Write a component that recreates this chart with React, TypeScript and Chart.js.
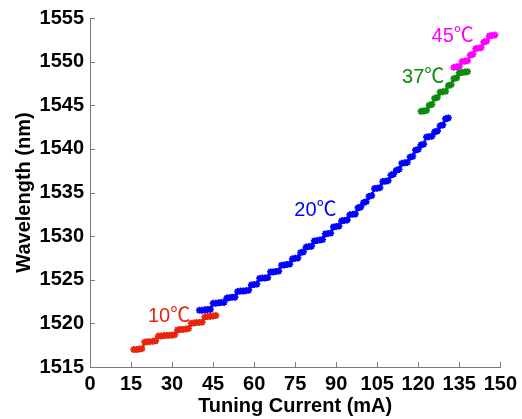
import React, { useEffect, useRef } from 'react';
import { Chart, registerables } from 'chart.js';

Chart.register(...registerables);

// 10 °C
const current10 = [16, 17, 18, 19, 20, 21, 22, 23, 24, 25, 26, 27, 28, 29, 30, 31, 32, 33, 34, 35, 36, 37, 38, 39, 40, 41, 42, 43, 44, 45, 46];
const wave10 = [1517.0, 1517.0, 1517.05, 1517.1, 1517.85, 1517.9, 1517.9, 1517.95, 1518.0, 1518.55, 1518.55, 1518.6, 1518.6, 1518.65, 1518.65, 1518.7, 1519.25, 1519.3, 1519.3, 1519.35, 1519.4, 1520.0, 1520.05, 1520.1, 1520.1, 1520.15, 1520.75, 1520.8, 1520.8, 1520.85, 1520.9];

// 20 °C
const current20 = [40, 41, 42, 43, 44, 45, 46, 47, 48, 49, 50, 51, 52, 53, 54, 55, 56, 57, 58, 59, 60, 61, 62, 63, 64, 65, 66, 67, 68, 69, 70, 71, 72, 73, 74, 75, 76, 77, 78, 79, 80, 81, 82, 83, 84, 85, 86, 87, 88, 89, 90, 91, 92, 93, 94, 95, 96, 97, 98, 99, 100, 101, 102, 103, 104, 105, 106, 107, 108, 109, 110, 111, 112, 113, 114, 115, 116, 117, 118, 119, 120, 121, 122, 123, 124, 125, 126, 127, 128, 129, 130, 131];
const wave20 = [
  1521.5, 1521.5, 1521.55, 1521.6, 1521.6,
  1522.3, 1522.3, 1522.35, 1522.4, 1522.4,
  1522.9, 1522.95, 1523.0, 1523.0,
  1523.65, 1523.7, 1523.7, 1523.75, 1523.8,
  1524.4, 1524.45, 1524.5,
  1525.15, 1525.2, 1525.2, 1525.25,
  1525.9, 1525.9, 1525.95, 1526.0,
  1526.65, 1526.7, 1526.75, 1526.8,
  1527.4, 1527.45, 1527.5,
  1528.1, 1528.2,
  1528.75, 1528.8, 1528.85,
  1529.45, 1529.5, 1529.55, 1529.6,
  1530.25, 1530.3, 1530.35,
  1531.05, 1531.1, 1531.15,
  1531.75, 1531.8, 1531.85,
  1532.45, 1532.5, 1532.55,
  1533.25, 1533.35,
  1533.85, 1533.95,
  1534.55, 1534.65,
  1535.45, 1535.5, 1535.55,
  1536.25, 1536.3, 1536.35,
  1537.0, 1537.1,
  1537.55, 1537.65,
  1538.35, 1538.4, 1538.45,
  1539.05, 1539.15,
  1539.85, 1539.95,
  1540.45, 1540.55,
  1541.35, 1541.4, 1541.45,
  1541.95, 1542.05,
  1542.65, 1542.75,
  1543.45, 1543.55,
];

// 37 °C
const current37 = [121, 122, 123, 124, 125, 126, 127, 128, 129, 130, 131, 132, 133, 134, 135, 136, 137, 138];
const wave37 = [1544.3, 1544.35, 1544.4, 1545.0, 1545.1, 1545.8, 1545.9, 1546.5, 1546.55, 1546.6, 1547.25, 1547.35, 1548.05, 1548.15, 1548.7, 1548.75, 1548.8, 1548.85];

// 45 °C
const current45 = [133, 134, 135, 136, 137, 138, 139, 140, 141, 142, 143, 144, 145, 146, 147, 148];
const wave45 = [1549.35, 1549.4, 1549.45, 1550.0, 1550.05, 1550.1, 1550.75, 1550.85, 1551.5, 1551.55, 1551.6, 1552.25, 1552.35, 1552.95, 1553.0, 1553.05];

const seriesLabels = ['10℃', '20℃', '37℃', '45℃'];
const seriesColors = ['#e8250c', '#0000ff', '#0b8a0b', '#ff00ff'];
const labelCurrent = [28.9, 82.4, 121.8, 132.6];
const labelWave = [1520.74, 1532.95, 1548.2, 1552.86];

const xMin = 0, xMax = 150, xStep = 15;
const yMin = 1515, yMax = 1555, yStep = 5;

const AXIS_GRAY = '#7a7a7a';

const inwardTicks = {
  id: 'inwardTicks',
  afterDatasetsDraw(chart: any) {
    const { ctx, chartArea, scales } = chart;
    ctx.save();
    ctx.strokeStyle = AXIS_GRAY;
    ctx.lineWidth = 1;
    scales.x.ticks.forEach((t: any) => {
      const px = Math.round(scales.x.getPixelForValue(t.value)) + 0.5;
      ctx.beginPath();
      ctx.moveTo(px, chartArea.bottom);
      ctx.lineTo(px, chartArea.bottom - 5);
      ctx.stroke();
    });
    scales.y.ticks.forEach((t: any) => {
      const py = Math.round(scales.y.getPixelForValue(t.value)) + 0.5;
      ctx.beginPath();
      ctx.moveTo(chartArea.left, py);
      ctx.lineTo(chartArea.left + 5, py);
      ctx.stroke();
    });
    ctx.restore();
  },
};

const seriesText = {
  id: 'seriesText',
  afterDatasetsDraw(chart: any) {
    const { ctx, scales } = chart;
    ctx.save();
    ctx.font = '20px "Liberation Sans", Arial, "Noto Sans CJK SC", sans-serif';
    ctx.textAlign = 'center';
    ctx.textBaseline = 'middle';
    seriesLabels.forEach((txt, i) => {
      ctx.fillStyle = seriesColors[i];
      ctx.fillText(txt, scales.x.getPixelForValue(labelCurrent[i]), scales.y.getPixelForValue(labelWave[i]));
    });
    ctx.restore();
  },
};

function makeData(xs: number[], ys: number[]) {
  return xs.map((x, i) => ({ x, y: ys[i] }));
}

const tickFont = { family: '"Liberation Sans", Arial, sans-serif', size: 20, weight: 'bold' };
const titleFont = { family: '"Liberation Sans", Arial, sans-serif', size: 20, weight: 'bold' };

export default function App() {
  const canvasRef = useRef<HTMLCanvasElement | null>(null);

  useEffect(() => {
    if (!canvasRef.current) return;
    const sets = [
      [current10, wave10],
      [current20, wave20],
      [current37, wave37],
      [current45, wave45],
    ];
    const chart = new Chart(canvasRef.current, {
      type: 'scatter',
      data: {
        datasets: sets.map(([xs, ys], i) => ({
          label: seriesLabels[i],
          data: makeData(xs, ys),
          showLine: true,
          borderColor: seriesColors[i],
          backgroundColor: seriesColors[i],
          borderWidth: 1.5,
          pointStyle: 'star',
          pointRadius: 3.5,
          pointBorderWidth: 1.8,
          pointBorderColor: seriesColors[i],
          pointHoverRadius: 3.5,
        })),
      },
      options: {
        animation: false,
        responsive: true,
        maintainAspectRatio: false,
        layout: { padding: { top: 13, right: 17, left: 0, bottom: 0 } },
        plugins: {
          legend: { display: false },
          tooltip: { enabled: false },
        },
        scales: {
          x: {
            type: 'linear',
            min: xMin,
            max: xMax,
            afterFit: (s: any) => { s.height = 52; },
            grid: { display: false, drawTicks: false, tickLength: 0 },
            border: { display: true, color: AXIS_GRAY, width: 1 },
            ticks: {
              stepSize: xStep,
              padding: 5,
              color: '#000',
              font: tickFont,
              maxRotation: 0,
              autoSkip: false,
              callback: (v: any) => String(v),
            },
            title: {
              display: true,
              text: 'Tuning Current (mA)',
              color: '#000',
              padding: { top: 0, bottom: 1 },
              font: titleFont,
            },
          },
          y: {
            type: 'linear',
            min: yMin,
            max: yMax,
            afterFit: (s: any) => { s.width = 90; },
            grid: { display: false, drawTicks: false, tickLength: 0 },
            border: { display: true, color: AXIS_GRAY, width: 1 },
            ticks: {
              stepSize: yStep,
              padding: 6,
              color: '#000',
              font: tickFont,
              callback: (v: any) => String(v),
            },
            title: {
              display: true,
              text: 'Wavelength (nm)',
              color: '#000',
              padding: { top: 12, bottom: 0 },
              font: titleFont,
            },
          },
        },
      } as any,
      plugins: [inwardTicks, seriesText],
    });
    return () => chart.destroy();
  }, []);

  return (
    <div style={{ position: 'fixed', left: 0, top: 0, width: 522, height: 419, background: '#fff' }}>
      <canvas ref={canvasRef} />
    </div>
  );
}
